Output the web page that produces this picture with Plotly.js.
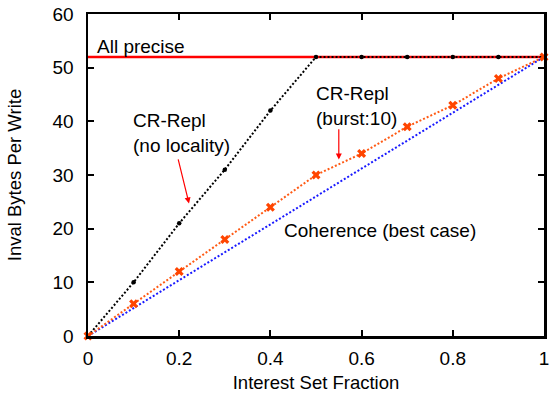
<!DOCTYPE html>
<html>
<head>
<meta charset="utf-8">
<script src="https://cdn.plot.ly/plotly-3.0.1.min.js"></script>
<style>
  html, body { margin: 0; padding: 0; background: #fff; }
  #chart { width: 552px; height: 396px; }
</style>
</head>
<body>
<div id="chart"></div>
<script>
// Interest set fraction sampled at each tenth
const fraction = [0, 0.1, 0.2, 0.3, 0.4, 0.5, 0.6, 0.7, 0.8, 0.9, 1];

// Invalidation bytes per write for each scheme
const crReplNoLocality = [0, 10, 21, 31, 42, 52, 52, 52, 52, 52, 52];
const crReplBurst10 = [0, 6, 12, 18, 24, 30, 34, 39, 43, 48, 52];

// Best-case coherence and the all-precise ceiling (straight lines)
const coherenceX = [0, 1];
const coherenceY = [0, 52];
const allPreciseX = [0, 1];
const allPreciseY = [52, 52];

const xTicks = [0, 0.2, 0.4, 0.6, 0.8, 1];
const xTickText = ['0', '0.2', '0.4', '0.6', '0.8', '1'];
const yTicks = [0, 10, 20, 30, 40, 50, 60];

const FONT = 'Liberation Sans, Arial, sans-serif';
const dotted = '2px,2px';

const traces = [
  {
    x: coherenceX, y: coherenceY, mode: 'lines',
    line: { color: '#1a1aff', width: 2, dash: dotted },
    hoverinfo: 'skip', cliponaxis: false
  },
  {
    x: allPreciseX, y: allPreciseY, mode: 'lines',
    line: { color: '#ff0000', width: 2.5 },
    hoverinfo: 'skip', cliponaxis: false
  },
  {
    x: fraction, y: crReplNoLocality, mode: 'lines+markers',
    line: { color: '#000000', width: 2, dash: dotted },
    marker: { symbol: 'circle', size: 4.5, color: '#000000' },
    hoverinfo: 'skip', cliponaxis: false
  },
  {
    x: fraction, y: crReplBurst10, mode: 'lines+markers',
    line: { color: '#ff5a14', width: 2, dash: dotted },
    marker: { symbol: 'x', size: 8, color: '#ff4500' },
    hoverinfo: 'skip', cliponaxis: false
  }
];

const textFont = { family: FONT, size: 19, color: '#000' };

const layout = {
  width: 552, height: 396,
  margin: { l: 88, r: 8, t: 14, b: 60 },
  paper_bgcolor: '#fff', plot_bgcolor: '#fff',
  showlegend: false,
  font: { family: FONT, size: 19, color: '#000' },
  xaxis: {
    range: [0, 1], tickvals: xTicks, ticktext: xTickText,
    ticks: 'inside', ticklen: 6, tickwidth: 2, tickcolor: '#000',
    showline: true, linewidth: 2.5, linecolor: '#000', mirror: 'ticks',
    showgrid: false, zeroline: false,
    ticklabelstandoff: 4,
    tickfont: { family: FONT, size: 19, color: '#000' },
    title: { text: 'Interest Set Fraction', font: { family: FONT, size: 18.5, color: '#000' }, standoff: 8 }
  },
  yaxis: {
    range: [0, 60], tickvals: yTicks,
    ticks: 'inside', ticklen: 6, tickwidth: 2, tickcolor: '#000',
    showline: true, linewidth: 2.5, linecolor: '#000', mirror: 'ticks',
    showgrid: false, zeroline: false,
    ticklabelstandoff: 8,
    tickfont: { family: FONT, size: 19, color: '#000' },
    title: { text: 'Inval Bytes Per Write', font: { family: FONT, size: 18.5, color: '#000' }, standoff: 26 }
  },
  annotations: [
    {
      text: 'All precise', x: 0.015, y: 54, xref: 'x', yref: 'y',
      xanchor: 'left', yanchor: 'middle', showarrow: false, font: textFont
    },
    {
      text: 'CR-Repl<br>(no locality)', x: 0.095, y: 37.8, xref: 'x', yref: 'y',
      xanchor: 'left', yanchor: 'middle', align: 'left', showarrow: false, font: textFont
    },
    {
      text: 'CR-Repl<br>(burst:10)', x: 0.495, y: 42.8, xref: 'x', yref: 'y',
      xanchor: 'left', yanchor: 'middle', align: 'left', showarrow: false, font: textFont
    },
    {
      text: 'Coherence (best case)', x: 0.425, y: 19.7, xref: 'x', yref: 'y',
      xanchor: 'left', yanchor: 'middle', showarrow: false, font: textFont
    },
    {
      text: '', x: 0.2215, y: 24.7, xref: 'x', yref: 'y',
      ax: 0.197, ay: 33.2, axref: 'x', ayref: 'y',
      showarrow: true, arrowhead: 2, arrowsize: 1, arrowwidth: 1.2,
      arrowcolor: '#ff0000', standoff: 0, startstandoff: 0
    },
    {
      text: '', x: 0.55, y: 32.9, xref: 'x', yref: 'y',
      ax: 0.55, ay: 38.8, axref: 'x', ayref: 'y',
      showarrow: true, arrowhead: 2, arrowsize: 1, arrowwidth: 1.2,
      arrowcolor: '#ff0000', standoff: 0, startstandoff: 0
    }
  ]
};

Plotly.newPlot('chart', traces, layout, { staticPlot: true, displayModeBar: false });
</script>
</body>
</html>
